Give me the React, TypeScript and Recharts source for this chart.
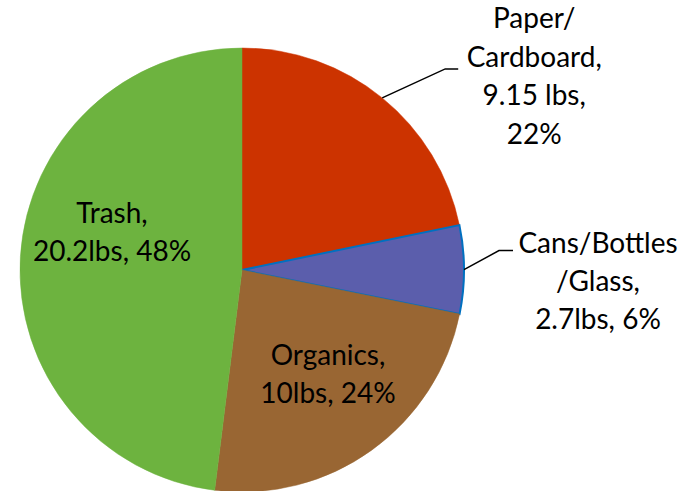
import React from "react";
import { PieChart, Pie, Cell } from "recharts";

const categories = ["Paper/Cardboard", "Cans/Bottles/Glass", "Organics", "Trash"];
const weights = [9.15, 2.7, 10, 20.2];
const labelLines = [
  ["Paper/", "Cardboard,", "9.15 lbs,", "22%"],
  ["Cans/Bottles", "/Glass,", "2.7lbs, 6%"],
  ["Organics,", "10lbs, 24%"],
  ["Trash,", "20.2lbs, 48%"],
];
const colors = ["#CC3300", "#5B5EAC", "#996633", "#6DB33F"];

const data = categories.map((name, i) => ({ name, value: weights[i] }));

// label layout config (outside labels use leader lines from slice edge)
const labelCfg = [
  { outside: true, elbow: [63, -29], tail: 13, text: [152, -70], gap: 38.7 },
  { outside: true, elbow: [35, -19], tail: 14, text: [134, -17], gap: 38 },
  { outside: false, center: [86, 104], gap: 38.5 },
  { outside: false, center: [-130, -38], gap: 38.5 },
];

const FONT = "Lato, 'Open Sans', sans-serif";
const RAD = Math.PI / 180;

const renderLabel = (props: any) => {
  const { cx, cy, midAngle, outerRadius, index } = props;
  const cfg = labelCfg[index];
  const lines = labelLines[index];
  if (cfg.outside) {
    const ex = cx + outerRadius * Math.cos(-midAngle * RAD);
    const ey = cy + outerRadius * Math.sin(-midAngle * RAD);
    const bx = ex + cfg.elbow[0];
    const by = ey + cfg.elbow[1];
    const tx = ex + cfg.text[0];
    const ty = ey + cfg.text[1];
    return (
      <g key={`l${index}`}>
        <polyline
          points={`${ex},${ey} ${bx},${by} ${bx + cfg.tail},${by}`}
          fill="none"
          stroke="#000"
          strokeWidth={1.5}
        />
        {lines.map((s, k) => (
          <text
            key={k}
            x={tx}
            y={ty + k * cfg.gap}
            textAnchor="middle"
            fontFamily={FONT}
            fontSize={28}
            fill="#000"
          >
            {s}
          </text>
        ))}
      </g>
    );
  }
  const tx = cx + cfg.center[0];
  const ty = cy + cfg.center[1];
  const n = lines.length;
  return (
    <g key={`l${index}`}>
      {lines.map((s, k) => (
        <text
          key={k}
          x={tx}
          y={ty + (k - (n - 1) / 2) * cfg.gap + 10}
          textAnchor="middle"
          fontFamily={FONT}
          fontSize={28}
          fill="#000"
        >
          {s}
        </text>
      ))}
    </g>
  );
};

export default function App() {
  return (
    <div style={{ position: "absolute", left: 0, top: 0, width: 696, height: 491, background: "#fff" }}>
      <PieChart width={696} height={491} margin={{ top: 0, right: 0, bottom: 0, left: 0 }}>
        <Pie
          data={data}
          dataKey="value"
          nameKey="name"
          cx={242}
          cy={270}
          outerRadius={222}
          startAngle={90}
          endAngle={-270}
          isAnimationActive={false}
          label={renderLabel}
          labelLine={false}
        >
          {data.map((d, i) => (
            <Cell
              key={d.name}
              fill={colors[i]}
              stroke={i === 1 ? "#0070C0" : colors[i]}
              strokeWidth={i === 1 ? 2 : 0.5}
            />
          ))}
        </Pie>
      </PieChart>
    </div>
  );
}
